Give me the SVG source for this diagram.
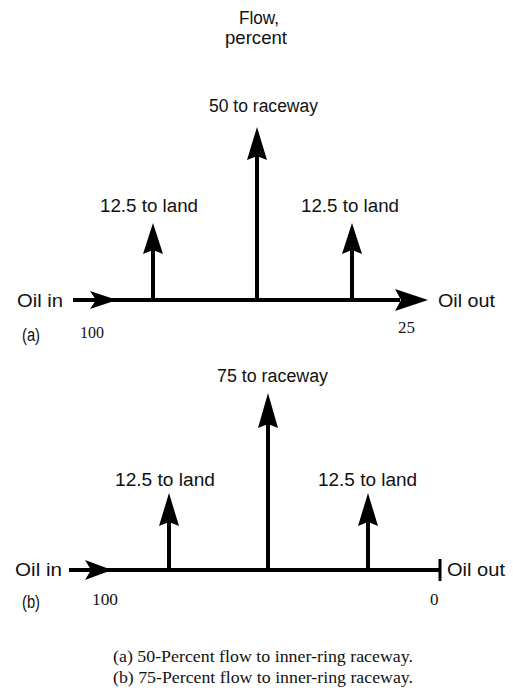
<svg xmlns="http://www.w3.org/2000/svg" width="513" height="695" viewBox="0 0 513 695">
  <style>
    .lbl { font-family: "Liberation Sans", "DejaVu Sans", sans-serif; font-size: 18px; fill: #111; }
    .num { font-family: "Liberation Serif", "DejaVu Serif", serif; font-size: 17px; fill: #111; }
    .cap { font-family: "Liberation Serif", "DejaVu Serif", serif; font-size: 16px; fill: #111; }
    .flow { stroke: #000; stroke-width: 4; fill: none; }
    .head { fill: #000; stroke: none; }
  </style>
  <rect width="513" height="695" fill="#fff"/>

  <!-- Heading -->
  <g id="heading">
    <text class="lbl" x="239" y="24" textLength="40" lengthAdjust="spacingAndGlyphs">Flow,</text>
    <text class="lbl" x="225" y="44" textLength="62" lengthAdjust="spacingAndGlyphs">percent</text>
  </g>

  <!-- Part (a): 50 percent to raceway -->
  <g id="a-inlet">
    <text class="lbl" x="17" y="307" textLength="46" lengthAdjust="spacingAndGlyphs">Oil in</text>
    <text class="lbl" x="22" y="341" textLength="18" lengthAdjust="spacingAndGlyphs">(a)</text>
    <text class="num" x="80" y="338" textLength="24" lengthAdjust="spacingAndGlyphs">100</text>
  </g>
  <g id="a-outlet">
    <text class="lbl" x="438" y="307" textLength="57" lengthAdjust="spacingAndGlyphs">Oil out</text>
    <text class="num" x="398" y="333" textLength="17" lengthAdjust="spacingAndGlyphs">25</text>
  </g>
  <g id="a-land-1">
    <text class="lbl" x="100" y="212" textLength="98" lengthAdjust="spacingAndGlyphs">12.5 to land</text>
  </g>
  <g id="a-raceway">
    <text class="lbl" x="209" y="112" textLength="109" lengthAdjust="spacingAndGlyphs">50 to raceway</text>
  </g>
  <g id="a-land-2">
    <text class="lbl" x="301" y="212" textLength="98" lengthAdjust="spacingAndGlyphs">12.5 to land</text>
  </g>

  <!-- Part (b): 75 percent to raceway -->
  <g id="b-inlet">
    <text class="lbl" x="15" y="576" textLength="47" lengthAdjust="spacingAndGlyphs">Oil in</text>
    <text class="lbl" x="22" y="608" textLength="18" lengthAdjust="spacingAndGlyphs">(b)</text>
    <text class="num" x="92" y="605" textLength="26" lengthAdjust="spacingAndGlyphs">100</text>
  </g>
  <g id="b-outlet">
    <text class="lbl" x="447" y="576" textLength="58" lengthAdjust="spacingAndGlyphs">Oil out</text>
    <text class="num" x="430" y="605">0</text>
  </g>
  <g id="b-land-1">
    <text class="lbl" x="115" y="486" textLength="100" lengthAdjust="spacingAndGlyphs">12.5 to land</text>
  </g>
  <g id="b-raceway">
    <text class="lbl" x="217" y="382" textLength="111" lengthAdjust="spacingAndGlyphs">75 to raceway</text>
  </g>
  <g id="b-land-2">
    <text class="lbl" x="318" y="486" textLength="99" lengthAdjust="spacingAndGlyphs">12.5 to land</text>
  </g>

  <!-- Flow lines and arrowheads -->
  <g id="connectors">
    <!-- (a) main passage -->
    <line class="flow" x1="73" y1="300" x2="400" y2="300"/>
    <polygon class="head" points="117,300 90,291 96,300 90,309"/>
    <polygon class="head" points="428,300 395,289 401,300 395,311"/>
    <!-- (a) branches -->
    <line class="flow" x1="153" y1="300" x2="153" y2="248"/>
    <polygon class="head" points="153,223 143,254 153,250 163,254"/>
    <line class="flow" x1="257" y1="300" x2="257" y2="154"/>
    <polygon class="head" points="257,127 247,160 257,156 267,160"/>
    <line class="flow" x1="352" y1="300" x2="352" y2="248"/>
    <polygon class="head" points="352,223 342,254 352,250 362,254"/>

    <!-- (b) main passage -->
    <line class="flow" x1="69" y1="570" x2="440" y2="570"/>
    <polygon class="head" points="112,570 85,560 91,570 85,580"/>
    <line stroke="#000" stroke-width="3" x1="440" y1="559" x2="440" y2="581"/>
    <!-- (b) branches -->
    <line class="flow" x1="169" y1="570" x2="169" y2="520"/>
    <polygon class="head" points="169,493 159,526 169,522 179,526"/>
    <line class="flow" x1="268" y1="570" x2="268" y2="422"/>
    <polygon class="head" points="268,393 258,428 268,424 278,428"/>
    <line class="flow" x1="368" y1="570" x2="368" y2="520"/>
    <polygon class="head" points="368,493 358,526 368,522 378,526"/>
  </g>

  <!-- Captions -->
  <g id="captions">
    <text class="cap" x="113" y="662" textLength="300" lengthAdjust="spacingAndGlyphs">(a) 50-Percent flow to inner-ring raceway.</text>
    <text class="cap" x="113" y="683" textLength="300" lengthAdjust="spacingAndGlyphs">(b) 75-Percent flow to inner-ring raceway.</text>
  </g>
</svg>
